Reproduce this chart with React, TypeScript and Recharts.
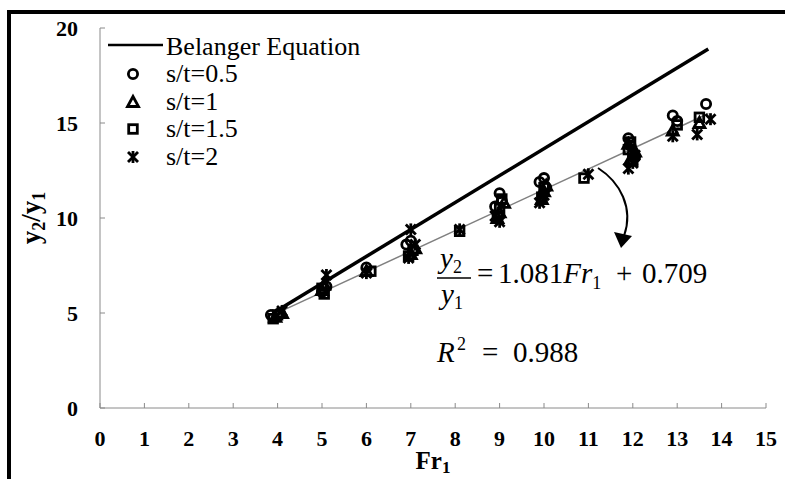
import React from 'react';
import { ScatterChart, Scatter, XAxis, YAxis, Customized } from 'recharts';

const serif = '"Liberation Serif", "Times New Roman", serif';
const axisGray = '#8a8a8a';

const xTicks = [0, 1, 2, 3, 4, 5, 6, 7, 8, 9, 10, 11, 12, 13, 14, 15];
const yTicks = [0, 5, 10, 15, 20];

const belangerFr = [3.9, 13.7];
const belangerY = [5.0, 18.9];

const fitFr = [3.9, 13.7];
const fitY = [4.9, 15.5];

const st05Fr = [3.85, 4.05, 5.0, 5.1, 6.0, 6.9, 7.0, 7.05, 8.9, 9.0, 9.05, 9.9, 10.0, 10.05, 11.9, 12.0, 11.95, 12.05, 12.9, 13.0, 13.65];
const st05Y = [4.9, 5.0, 6.1, 6.4, 7.4, 8.6, 8.8, 8.3, 10.6, 11.3, 10.9, 11.9, 12.1, 11.6, 14.2, 13.4, 13.8, 13.2, 15.4, 15.1, 16.0];

const st1Fr = [3.95, 4.1, 5.0, 5.05, 6.0, 7.0, 7.1, 9.0, 9.1, 8.95, 10.0, 10.05, 9.95, 11.95, 12.05, 11.9, 12.9, 13.5];
const st1Y = [4.8, 5.0, 6.2, 6.5, 7.2, 8.1, 8.4, 10.3, 10.8, 10.0, 11.4, 11.7, 11.0, 13.1, 13.5, 13.9, 14.6, 15.0];

const st15Fr = [4.0, 3.9, 5.05, 5.0, 6.1, 7.05, 6.95, 8.1, 9.0, 8.95, 9.05, 9.95, 10.0, 10.9, 11.9, 12.0, 11.95, 13.0, 13.5];
const st15Y = [4.9, 4.7, 6.0, 6.3, 7.2, 8.3, 8.0, 9.3, 10.5, 10.1, 11.0, 11.1, 11.6, 12.1, 13.6, 13.0, 14.0, 14.9, 15.3];

const st2Fr = [4.1, 5.1, 6.0, 7.0, 6.95, 7.1, 8.1, 8.9, 9.0, 10.0, 9.9, 11.0, 12.0, 11.9, 12.05, 12.9, 13.45, 13.75];
const st2Y = [5.1, 7.0, 7.1, 9.4, 7.9, 8.6, 9.4, 10.1, 9.8, 11.2, 10.8, 12.3, 12.9, 12.6, 13.3, 14.3, 14.4, 15.2];

const toPts = (xs: number[], ys: number[]) => xs.map((x, i) => ({ x, y: ys[i] }));

const belangerData = toPts(belangerFr, belangerY);
const fitData = toPts(fitFr, fitY);
const st05Data = toPts(st05Fr, st05Y);
const st1Data = toPts(st1Fr, st1Y);
const st15Data = toPts(st15Fr, st15Y);
const st2Data = toPts(st2Fr, st2Y);

const SW = 2.8;

const CircleMark = ({ cx, cy }: any) => (
  <circle cx={cx} cy={cy} r={4.6} fill="none" stroke="#000" strokeWidth={SW} />
);
const TriMark = ({ cx, cy }: any) => (
  <polygon
    points={`${cx},${cy - 5.5} ${cx - 5.5},${cy + 4.5} ${cx + 5.5},${cy + 4.5}`}
    fill="none"
    stroke="#000"
    strokeWidth={SW}
  />
);
const SqMark = ({ cx, cy }: any) => (
  <rect x={cx - 4.3} y={cy - 4.3} width={8.6} height={8.6} fill="none" stroke="#000" strokeWidth={SW} />
);
const StarMark = ({ cx, cy }: any) => (
  <g stroke="#000" strokeWidth={SW}>
    <line x1={cx - 5} y1={cy - 5} x2={cx + 5} y2={cy + 5} />
    <line x1={cx - 5} y1={cy + 5} x2={cx + 5} y2={cy - 5} />
    <line x1={cx} y1={cy - 6} x2={cx} y2={cy + 6} />
  </g>
);
const NoMark = () => <g />;

const XTick = ({ x, y, payload }: any) => (
  <g>
    <line x1={x} x2={x} y1={y} y2={y - 5} stroke={axisGray} />
    <text x={x} y={y + 38} textAnchor="middle" fontFamily={serif} fontWeight="bold" fontSize={22} fill="#000">
      {payload.value}
    </text>
  </g>
);

const YTick = ({ x, y, payload }: any) => (
  <g>
    <line x1={x} x2={x + 5} y1={y} y2={y} stroke={axisGray} />
    <text x={x - 22} y={y + 8} textAnchor="end" fontFamily={serif} fontWeight="bold" fontSize={22} fill="#000">
      {payload.value}
    </text>
  </g>
);

const legendItems = [
  { label: 's/t=0.5', Mark: CircleMark, my: 74, ty: 82 },
  { label: 's/t=1', Mark: TriMark, my: 102, ty: 110 },
  { label: 's/t=1.5', Mark: SqMark, my: 129, ty: 137 },
  { label: 's/t=2', Mark: StarMark, my: 157, ty: 165 },
];

const T = (props: any) => <text fontFamily={serif} fill="#000" {...props} />;

const Annotations = () => (
  <g>
    {/* legend */}
    <line x1={108} x2={163} y1={45} y2={45} stroke="#000" strokeWidth={2.5} />
    <T x={166} y={55} fontSize={26}>Belanger Equation</T>
    {legendItems.map(({ label, Mark, my, ty }) => (
      <g key={label}>
        <Mark cx={133} cy={my} />
        <T x={166} y={ty} fontSize={26}>{label}</T>
      </g>
    ))}

    {/* axis titles */}
    <T x={433} y={469} textAnchor="middle" fontSize={25} fontWeight="bold">
      Fr<tspan fontSize={17} dy={4}>1</tspan>
    </T>
    <T transform="translate(40,218) rotate(-90)" textAnchor="middle" fontSize={27} fontWeight="bold">
      y<tspan fontSize={18} dy={5}>2</tspan>
      <tspan dy={-5}>/y</tspan>
      <tspan fontSize={18} dy={5}>1</tspan>
    </T>

    {/* fitted equation */}
    <T x={440} y={268} fontSize={29} fontStyle="italic">
      y<tspan fontSize={18} dy={5} fontStyle="normal">2</tspan>
    </T>
    <line x1={437} x2={471} y1={278} y2={278} stroke="#000" strokeWidth={1.3} />
    <T x={441} y={304} fontSize={29} fontStyle="italic">
      y<tspan fontSize={18} dy={5} fontStyle="normal">1</tspan>
    </T>
    <T x={477} y={283} fontSize={29}>=</T>
    <T x={498} y={283} fontSize={29}>
      1.081<tspan fontStyle="italic">Fr</tspan>
      <tspan fontSize={18} dy={6}>1</tspan>
    </T>
    <T x={616} y={283} fontSize={29}>+</T>
    <T x={642} y={283} fontSize={29}>0.709</T>

    <T x={437} y={362} fontSize={29} fontStyle="italic">R</T>
    <T x={457} y={350} fontSize={18}>2</T>
    <T x={482} y={362} fontSize={29}>=</T>
    <T x={513} y={362} fontSize={29}>0.988</T>

    {/* arrow */}
    <path d="M598,168 C620,182 634,208 624,236" fill="none" stroke="#000" strokeWidth={2} />
    <polygon points="621,248 614,232 632,236" fill="#000" />
  </g>
);

export default function App() {
  return (
    <div style={{ position: 'absolute', left: 0, top: 0, width: 785, height: 479, background: '#fff' }}>
      <ScatterChart width={785} height={479} margin={{ top: 28, right: 19, bottom: 21, left: 30 }}>
        <XAxis
          type="number"
          dataKey="x"
          domain={[0, 15]}
          ticks={xTicks}
          interval={0}
          height={50}
          tickSize={0}
          tickMargin={0}
          tickLine={false}
          tick={<XTick />}
          axisLine={{ stroke: axisGray }}
        />
        <YAxis
          type="number"
          dataKey="y"
          domain={[0, 20]}
          ticks={yTicks}
          interval={0}
          width={70}
          tickSize={0}
          tickMargin={0}
          tickLine={false}
          tick={<YTick />}
          axisLine={{ stroke: axisGray }}
        />
        <XAxis
          xAxisId="top"
          orientation="top"
          type="number"
          domain={[0, 15]}
          height={0}
          tick={false}
          tickLine={false}
          axisLine={{ stroke: axisGray }}
        />
        <YAxis
          yAxisId="right"
          orientation="right"
          type="number"
          domain={[0, 20]}
          width={0}
          tick={false}
          tickLine={false}
          axisLine={{ stroke: axisGray }}
        />
        <Scatter data={fitData} line={{ stroke: '#808080', strokeWidth: 1.5 }} shape={NoMark} isAnimationActive={false} legendType="none" />
        <Scatter data={belangerData} line={{ stroke: '#000', strokeWidth: 3.5 }} shape={NoMark} isAnimationActive={false} legendType="none" />
        <Scatter data={st05Data} shape={CircleMark} isAnimationActive={false} />
        <Scatter data={st1Data} shape={TriMark} isAnimationActive={false} />
        <Scatter data={st15Data} shape={SqMark} isAnimationActive={false} />
        <Scatter data={st2Data} shape={StarMark} isAnimationActive={false} />
        <Customized component={Annotations} />
      </ScatterChart>
      <div
        style={{
          position: 'absolute',
          left: 7,
          top: 10,
          width: 778,
          height: 469,
          borderTop: '4px solid #000',
          borderLeft: '4px solid #000',
          boxSizing: 'border-box',
          pointerEvents: 'none',
        }}
      />
    </div>
  );
}
